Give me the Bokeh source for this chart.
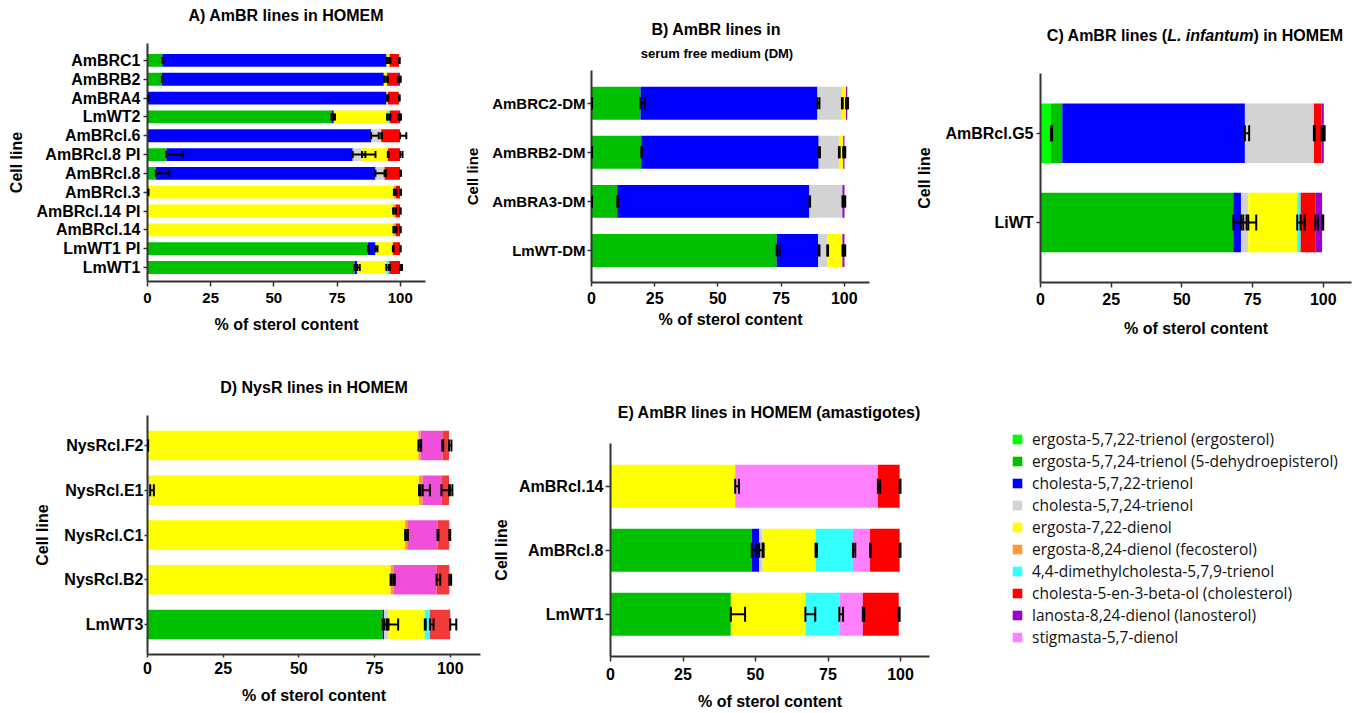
from bokeh.plotting import figure
from bokeh.layouts import row, column
from bokeh.models import (Range1d, FixedTicker, ColumnDataSource, Whisker, TeeHead,
                          Legend, LegendItem, Div)
from bokeh.embed import file_html
from bokeh.resources import INLINE

# ---------------- data ----------------
sterols = [
    "ergosta-5,7,22-trienol (ergosterol)",
    "ergosta-5,7,24-trienol (5-dehydroepisterol)",
    "cholesta-5,7,22-trienol",
    "cholesta-5,7,24-trienol",
    "ergosta-7,22-dienol",
    "ergosta-8,24-dienol (fecosterol)",
    "4,4-dimethylcholesta-5,7,9-trienol",
    "stigmasta-5,7-dienol",
    "cholesta-5-en-3-beta-ol (cholesterol)",
    "lanosta-8,24-dienol (lanosterol)",
]
legend_order = [0, 1, 2, 3, 4, 5, 6, 8, 9, 7]
x_ticks = [0, 25, 50, 75, 100]

# column order of every row follows the sterols list above
a_lines = ["AmBRC1", "AmBRB2", "AmBRA4", "LmWT2", "AmBRcl.6", "AmBRcl.8 PI",
           "AmBRcl.8", "AmBRcl.3", "AmBRcl.14 PI", "AmBRcl.14", "LmWT1 PI", "LmWT1"]
a_values = [
    [0, 5.9, 88.7, 0, 1.2, 0, 0, 0, 3.7, 0],
    [0, 5.7, 87.8, 0, 1.3, 0, 0, 0, 4.3, 0.8],
    [0, 0.2, 94.4, 0, 0.5, 0, 0, 0, 4.4, 0],
    [0, 72.8, 0.9, 0, 21.1, 0, 1.1, 0, 3.5, 0.6],
    [0, 0, 88.5, 4.0, 0, 0, 0, 0, 7.4, 0],
    [0, 7.5, 73.7, 3.7, 10.2, 0, 0, 0, 4.8, 0],
    [0, 3.3, 86.9, 3.6, 0, 0, 0, 0, 6.1, 0],
    [0, 0.2, 0, 0, 97.3, 0.7, 0, 0, 1.7, 0],
    [0, 0, 0, 0, 97.2, 1.0, 0, 0, 1.7, 0],
    [0, 0, 0, 0, 97.3, 1.0, 0, 0, 1.6, 0],
    [0, 87.2, 3.0, 0, 6.9, 0, 0, 0, 2.8, 0],
    [0, 81.9, 1.1, 0, 11.5, 0, 1.2, 0, 4.2, 0],
]
a_sd = [
    [0, 0.4, 0.5, 0, 0.3, 0, 0, 0, 0.3, 0],
    [0, 0.4, 0.4, 0, 0.3, 0, 0, 0, 0.3, 0.3],
    [0, 0.2, 0.5, 0, 0.2, 0, 0, 0, 0.3, 0],
    [0, 0.3, 0.5, 0, 0.3, 0, 0.2, 0, 0.3, 0.3],
    [0, 0, 3.0, 0.3, 0, 0, 0, 0, 2.5, 0],
    [0, 6.5, 5.0, 5.3, 0.3, 0, 0, 0, 1.0, 0],
    [0, 5.3, 4.2, 0.3, 0, 0, 0, 0, 0.4, 0],
    [0, 0.2, 0, 0, 0.3, 0.3, 0, 0, 0.4, 0],
    [0, 0, 0, 0, 0.2, 0.2, 0, 0, 0.3, 0],
    [0, 0, 0, 0, 0.2, 0.2, 0, 0, 0.3, 0],
    [0, 0.3, 0.8, 0, 0.3, 0, 0, 0, 0.3, 0],
    [0, 0.3, 1.0, 0, 1.0, 0, 0.3, 0, 0.8, 0],
]

b_lines = ["AmBRC2-DM", "AmBRB2-DM", "AmBRA3-DM", "LmWT-DM"]
b_values = [
    [0.1, 19.3, 70.0, 9.7, 1.6, 0, 0, 0, 0, 0.5],
    [0.1, 19.6, 70.2, 8.0, 1.7, 0, 0, 0, 0, 0.5],
    [0.1, 10.1, 76.0, 13.1, 0, 0, 0, 0, 0, 0.8],
    [0, 73.3, 16.4, 3.6, 6.0, 0, 0, 0, 0, 0.8],
]
b_sd = [
    [0.1, 1.7, 0.8, 0.3, 0.3, 0, 0, 0, 0, 0.3],
    [0.1, 0.3, 0.5, 0.3, 0.3, 0, 0, 0, 0, 0.3],
    [0.1, 0.3, 0.3, 0.3, 0, 0, 0, 0, 0, 0.3],
    [0, 1.2, 0.5, 0.3, 0.3, 0, 0, 0, 0, 0.3],
]

c_lines = ["AmBRcl.G5", "LiWT"]
c_values = [
    [3.7, 4.0, 64.6, 24.4, 0, 0, 0, 0, 2.7, 0.8],
    [0, 68.2, 2.7, 2.6, 17.3, 0, 1.2, 0, 5.2, 2.4],
]
c_sd = [
    [0.4, 0, 1.5, 0.3, 0, 0, 0, 0, 0.4, 0.3],
    [0, 3.5, 2.0, 2.8, 2.6, 0, 1.5, 0, 1.0, 0.4],
]

d_lines = ["NysRcl.F2", "NysRcl.E1", "NysRcl.C1", "NysRcl.B2", "LmWT3"]
d_values = [
    [0, 0, 0, 0.1, 89.4, 0.7, 0, 7.2, 2.2, 0],
    [0, 0, 0, 0.9, 88.8, 1.2, 0, 6.2, 2.5, 0],
    [0, 0, 0, 0, 85.1, 0.7, 0, 10.0, 3.9, 0],
    [0, 0, 0, 0, 80.3, 0.9, 0, 14.3, 4.2, 0],
    [0, 77.7, 0.5, 1.4, 12.0, 0, 1.7, 0, 6.7, 0],
]
d_sd = [
    [0, 0, 0, 0.1, 0.8, 0.2, 0, 0.3, 0.8, 0],
    [0, 0, 0, 1.2, 0.5, 2.4, 0, 3.6, 0.3, 0],
    [0, 0, 0, 0, 0.8, 0.2, 0, 0.3, 0.3, 0],
    [0, 0, 0, 0, 0.3, 0.5, 0, 1.2, 0.6, 0],
    [0, 1.5, 0.8, 3.2, 0.3, 0, 1.2, 0, 2.0, 0],
]

e_lines = ["AmBRcl.14", "AmBRcl.8", "LmWT1"]
e_values = [
    [0, 0, 0, 0, 43.0, 0, 0, 49.2, 7.5, 0],
    [0, 48.7, 2.6, 1.2, 18.2, 0, 12.9, 5.9, 10.2, 0],
    [0, 41.5, 0, 0, 25.7, 0, 11.7, 8.1, 12.4, 0],
]
e_sd = [
    [0, 0, 0, 0, 1.3, 0, 0, 0.8, 0.3, 0],
    [0, 1.7, 1.2, 0.3, 0.5, 0, 0.8, 0.3, 0.3, 0],
    [0, 4.9, 0, 0, 3.4, 0, 1.3, 0.5, 0.3, 0],
]

# ---------------- styles ----------------
FONT = "Liberation Sans"
colors = ["#00FF00", "#00C000", "#0000FF", "#D3D3D3", "#FFFF00",
          "#FF9933", "#33FFFF", "#FF80FF", "#FF0000", "#9900CC"]
colors_d = list(colors)
colors_d[7] = "#F050D8"
colors_d[8] = "#F23A3A"
KEYS = ["s%d" % k for k in range(len(sterols))]


def make_panel(lines, values, sds, cols, width, height, mb, pads, bar_frac, cap,
               ylab_px, ytick_out, ytick_sd, ylab_sd,
               xtick_px, xtick_out, xtick_sd, xlab_sd, ycell_px):
    n = len(lines)
    pos = [n - 1 - i for i in range(n)]
    data = {"y": pos}
    for k in range(len(sterols)):
        data[KEYS[k]] = [r[k] for r in values]
    src = ColumnDataSource(data)
    p = figure(width=width, height=height, output_backend="svg", toolbar_location=None,
               x_range=Range1d(0, 110), y_range=Range1d(-pads[1], n - 1 + pads[0]),
               min_border_left=mb[0], min_border_right=mb[1],
               min_border_top=mb[2], min_border_bottom=mb[3])
    p.frame_align = False
    p.title.visible = False
    p.hbar_stack(KEYS, y="y", height=bar_frac, fill_color=cols, line_color=None, source=src)

    ys, lo, hi = [], [], []
    for i, r in enumerate(values):
        cum = 0.0
        for k in range(len(r)):
            cum += r[k]
            if r[k] > 0 and sds[i][k] > 0:
                ys.append(pos[i]); lo.append(cum); hi.append(cum + sds[i][k])
    wsrc = ColumnDataSource(dict(base=ys, lower=lo, upper=hi))
    p.add_layout(Whisker(source=wsrc, base="base", lower="lower", upper="upper",
                         dimension="width", line_width=2, line_color="black", level="overlay",
                         upper_head=TeeHead(size=cap, line_width=2, line_color="black"),
                         lower_head=TeeHead(size=cap, line_width=2, line_color="black")))

    p.xgrid.visible = False
    p.ygrid.visible = False
    p.outline_line_color = None

    xa = p.xaxis[0]
    xa.ticker = FixedTicker(ticks=x_ticks, minor_ticks=[])
    xa.axis_label = "% of sterol content"
    ya = p.yaxis[0]
    ya.ticker = FixedTicker(ticks=pos, minor_ticks=[])
    ya.major_label_overrides = {pos[i]: lines[i] for i in range(n)}
    ya.axis_label = "Cell line"
    for ax in (xa, ya):
        ax.axis_line_width = 2
        ax.axis_line_color = "#333333"
        ax.major_tick_line_color = "#333333"
        ax.major_tick_line_width = 1.5
        ax.major_tick_in = 0
        ax.minor_tick_line_color = None
        ax.major_label_text_font = FONT
        ax.major_label_text_font_style = "bold"
        ax.major_label_text_color = "black"
        ax.axis_label_text_font = FONT
        ax.axis_label_text_font_style = "bold"
        ax.axis_label_text_color = "black"
        ax.axis_label_text_font_size = "16px"
    ya.major_label_text_font_size = "%dpx" % ylab_px
    ya.major_tick_out = ytick_out
    ya.major_label_standoff = ytick_sd
    ya.axis_label_standoff = ylab_sd
    ya.axis_label_text_font_size = "%dpx" % ycell_px
    xa.major_label_text_font_size = "%dpx" % xtick_px
    xa.major_tick_out = xtick_out
    xa.major_label_standoff = xtick_sd
    xa.axis_label_standoff = xlab_sd
    return p, src


def title_div(specs, W, T):
    parts = []
    for text, size, cx, cy in specs:
        half = min(cx, W - cx)
        parts.append(
            '<div style="position:absolute;left:%dpx;top:%dpx;width:%dpx;height:20px;'
            'line-height:20px;text-align:center;white-space:nowrap;'
            "font-family:'Liberation Sans',Arial,sans-serif;font-size:%dpx;"
            'font-weight:bold;color:#000;">%s</div>' % (cx - half, cy - 10, 2 * half, size, text))
    html = ('<div style="position:relative;width:%dpx;height:%dpx;overflow:hidden;">%s</div>'
            % (W, T, "".join(parts)))
    return Div(text=html, width=W, height=T, margin=(0, 0, 0, 0))


# ----- Panel A -----
pa, _ = make_panel(a_lines, a_values, a_sd, colors, 440, 319, (147, 15, 9, 72), (0.9, 0.745),
                   0.68, 7, 16, 4, 3, 8, 15, 5, 6, 10, 16)
da = title_div([("A) AmBR lines in HOMEM", 16, 286, 16)], 440, 34)

# ----- Panel B -----
pb, _ = make_panel(b_lines, b_values, b_sd, colors, 440, 287, (151, 11, 4, 71), (0.666, 0.652),
                   0.67, 12, 15, 4, 2, 8, 16, 4, 5, 4, 15)
db = title_div([("B) AmBR lines in", 16, 276, 30),
                ("serum free medium (DM)", 13, 277, 54)], 440, 66)

# ----- Panel C -----
pc, _ = make_panel(c_lines, c_values, c_sd, colors, 476, 298, (160, 5, 18, 71), (0.669, 0.672),
                   0.665, 16, 16, 4, 3, 9, 16, 5, 5, 12, 16)
dc = title_div([("C) AmBR lines (<i>L. infantum</i>) in HOMEM", 16, 315, 36)], 476, 55)

# ----- Panel D -----
pd_, _ = make_panel(d_lines, d_values, d_sd, colors_d, 490, 309, (147, 10, 12, 58), (0.67, 0.67),
                    0.655, 12, 16, 3, 1, 10, 16, 3, 4, 10, 16)
dd = title_div([("D) NysR lines in HOMEM", 16, 314, 35)], 490, 50)

# ----- Panel E -----
pe, e_src = make_panel(e_lines, e_values, e_sd, colors, 450, 282, (120, 11, 13, 56),
                       (0.667, 0.661), 0.672, 15, 16, 5, 2, 6, 16, 5, 6, 10, 16)
de = title_div([("E) AmBR lines in HOMEM (amastigotes)", 16, 279, 60)], 450, 77)

# ----- shared legend (its own plot; the stacked E bars lie outside its visible range) -----
pl = figure(width=416, height=359, output_backend="svg", toolbar_location=None,
            x_axis_type=None, y_axis_type=None, x_range=Range1d(0, 110),
            y_range=Range1d(50, 51),
            min_border_left=71, min_border_top=75, min_border_right=0, min_border_bottom=0)
pl.frame_align = False
pl.title.visible = False
pl.outline_line_color = None
l_rends = pl.hbar_stack(KEYS, y="y", height=0.5, fill_color=colors, line_color=None,
                        source=e_src)
items = [LegendItem(label=sterols[k], renderers=[l_rends[k]]) for k in legend_order]
leg = Legend(items=items, location="top_left", margin=0, padding=0, spacing=0,
             glyph_width=12, glyph_height=12, label_standoff=9, label_height=21,
             label_text_font="Open Sans", label_text_font_size="15.5px",
             label_text_color="#111111", border_line_color=None, background_fill_alpha=0)
pl.add_layout(leg)

layout = column(
    row(column(da, pa), column(db, pb), column(dc, pc)),
    row(column(dd, pd_), column(de, pe), pl),
)
open("out.html", "w").write(file_html(layout, INLINE))
